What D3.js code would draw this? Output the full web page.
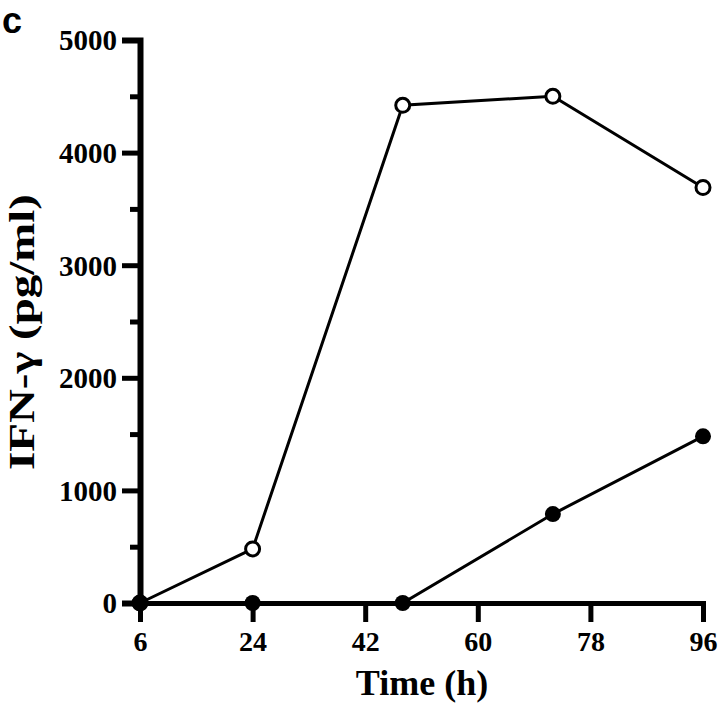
<!DOCTYPE html>
<html>
<head>
<meta charset="utf-8">
<script src="https://cdn.jsdelivr.net/npm/d3@7"></script>
<style>
  html, body { margin: 0; padding: 0; background: #fff; }
  svg { display: block; }
  text { font-family: "Liberation Serif", "Times New Roman", serif; font-weight: bold; fill: #000; }
</style>
</head>
<body>
<svg id="chart" width="720" height="703"></svg>
<script>
// ---- data ----
const times = [6, 24, 48, 72, 96];
const openSeries = [0, 480, 4420, 4500, 3690];
const filledSeries = [0, 0, 0, 790, 1480];
const xTickValues = [6, 24, 42, 60, 78, 96];
const yMajorTicks = [0, 1000, 2000, 3000, 4000, 5000];
const yMinorTicks = [500, 1500, 2500, 3500, 4500];
const panelLabel = "c";
const xTitle = "Time (h)";
const yTitle = "IFN-\u03B3 (pg/ml)";

// ---- layout ----
const svg = d3.select("#chart");
const x = d3.scaleLinear().domain([6, 96]).range([140, 703]);
const y = d3.scaleLinear().domain([0, 5000]).range([603, 40]);

// y axis minor ticks
const yMinor = svg.append("g").attr("transform", `translate(${x(6)},0)`)
  .call(d3.axisLeft(y).tickValues(yMinorTicks).tickSize(10).tickFormat(""));
yMinor.select(".domain").remove();
yMinor.selectAll(".tick line").attr("stroke", "#000").attr("stroke-width", 5);

// y axis major
const yAx = svg.append("g").attr("transform", `translate(${x(6)},0)`)
  .call(d3.axisLeft(y).tickValues(yMajorTicks).tickSize(18).tickSizeOuter(18).tickPadding(5).tickFormat(d3.format("d")));
yAx.select(".domain").attr("stroke", "#000").attr("stroke-width", 6).attr("fill", "none");
yAx.selectAll(".tick line").attr("stroke", "#000").attr("stroke-width", 5);
yAx.selectAll(".tick text").style("font-size", "29px").attr("dy", "0.34em");

// x axis
const xAx = svg.append("g").attr("transform", `translate(0,${y(0)})`)
  .call(d3.axisBottom(x).tickValues(xTickValues).tickSize(19).tickSizeOuter(19).tickPadding(9));
xAx.select(".domain").attr("stroke", "#000").attr("stroke-width", 5).attr("fill", "none");
xAx.selectAll(".tick line").attr("stroke", "#000").attr("stroke-width", 5);
xAx.selectAll(".tick text").style("font-size", "28px");

// lines
const line = d3.line().x((d, i) => x(times[i])).y(d => y(d));
svg.append("path").datum(openSeries).attr("d", line)
  .attr("fill", "none").attr("stroke", "#000").attr("stroke-width", 3);
svg.append("path").datum(filledSeries).attr("d", line)
  .attr("fill", "none").attr("stroke", "#000").attr("stroke-width", 3);

// markers
svg.selectAll("circle.open").data(openSeries).enter().append("circle")
  .attr("class", "open")
  .attr("cx", (d, i) => x(times[i])).attr("cy", d => y(d)).attr("r", 7)
  .attr("fill", "#fff").attr("stroke", "#000").attr("stroke-width", 3);
svg.selectAll("circle.filled").data(filledSeries).enter().append("circle")
  .attr("class", "filled")
  .attr("cx", (d, i) => x(times[i])).attr("cy", d => y(d)).attr("r", 8)
  .attr("fill", "#000");

// titles
svg.append("text").attr("x", 422).attr("y", 695).attr("text-anchor", "middle")
  .style("font-size", "36px").text(xTitle);
svg.append("text").attr("transform", "translate(34,332) rotate(-90)").attr("text-anchor", "middle")
  .attr("textLength", 276).attr("lengthAdjust", "spacingAndGlyphs")
  .style("font-size", "36px").text(yTitle);
svg.append("text").attr("x", 2).attr("y", 33)
  .style("font-family", "'Liberation Sans', Arial, sans-serif").style("font-size", "36px").text(panelLabel);
</script>
</body>
</html>
